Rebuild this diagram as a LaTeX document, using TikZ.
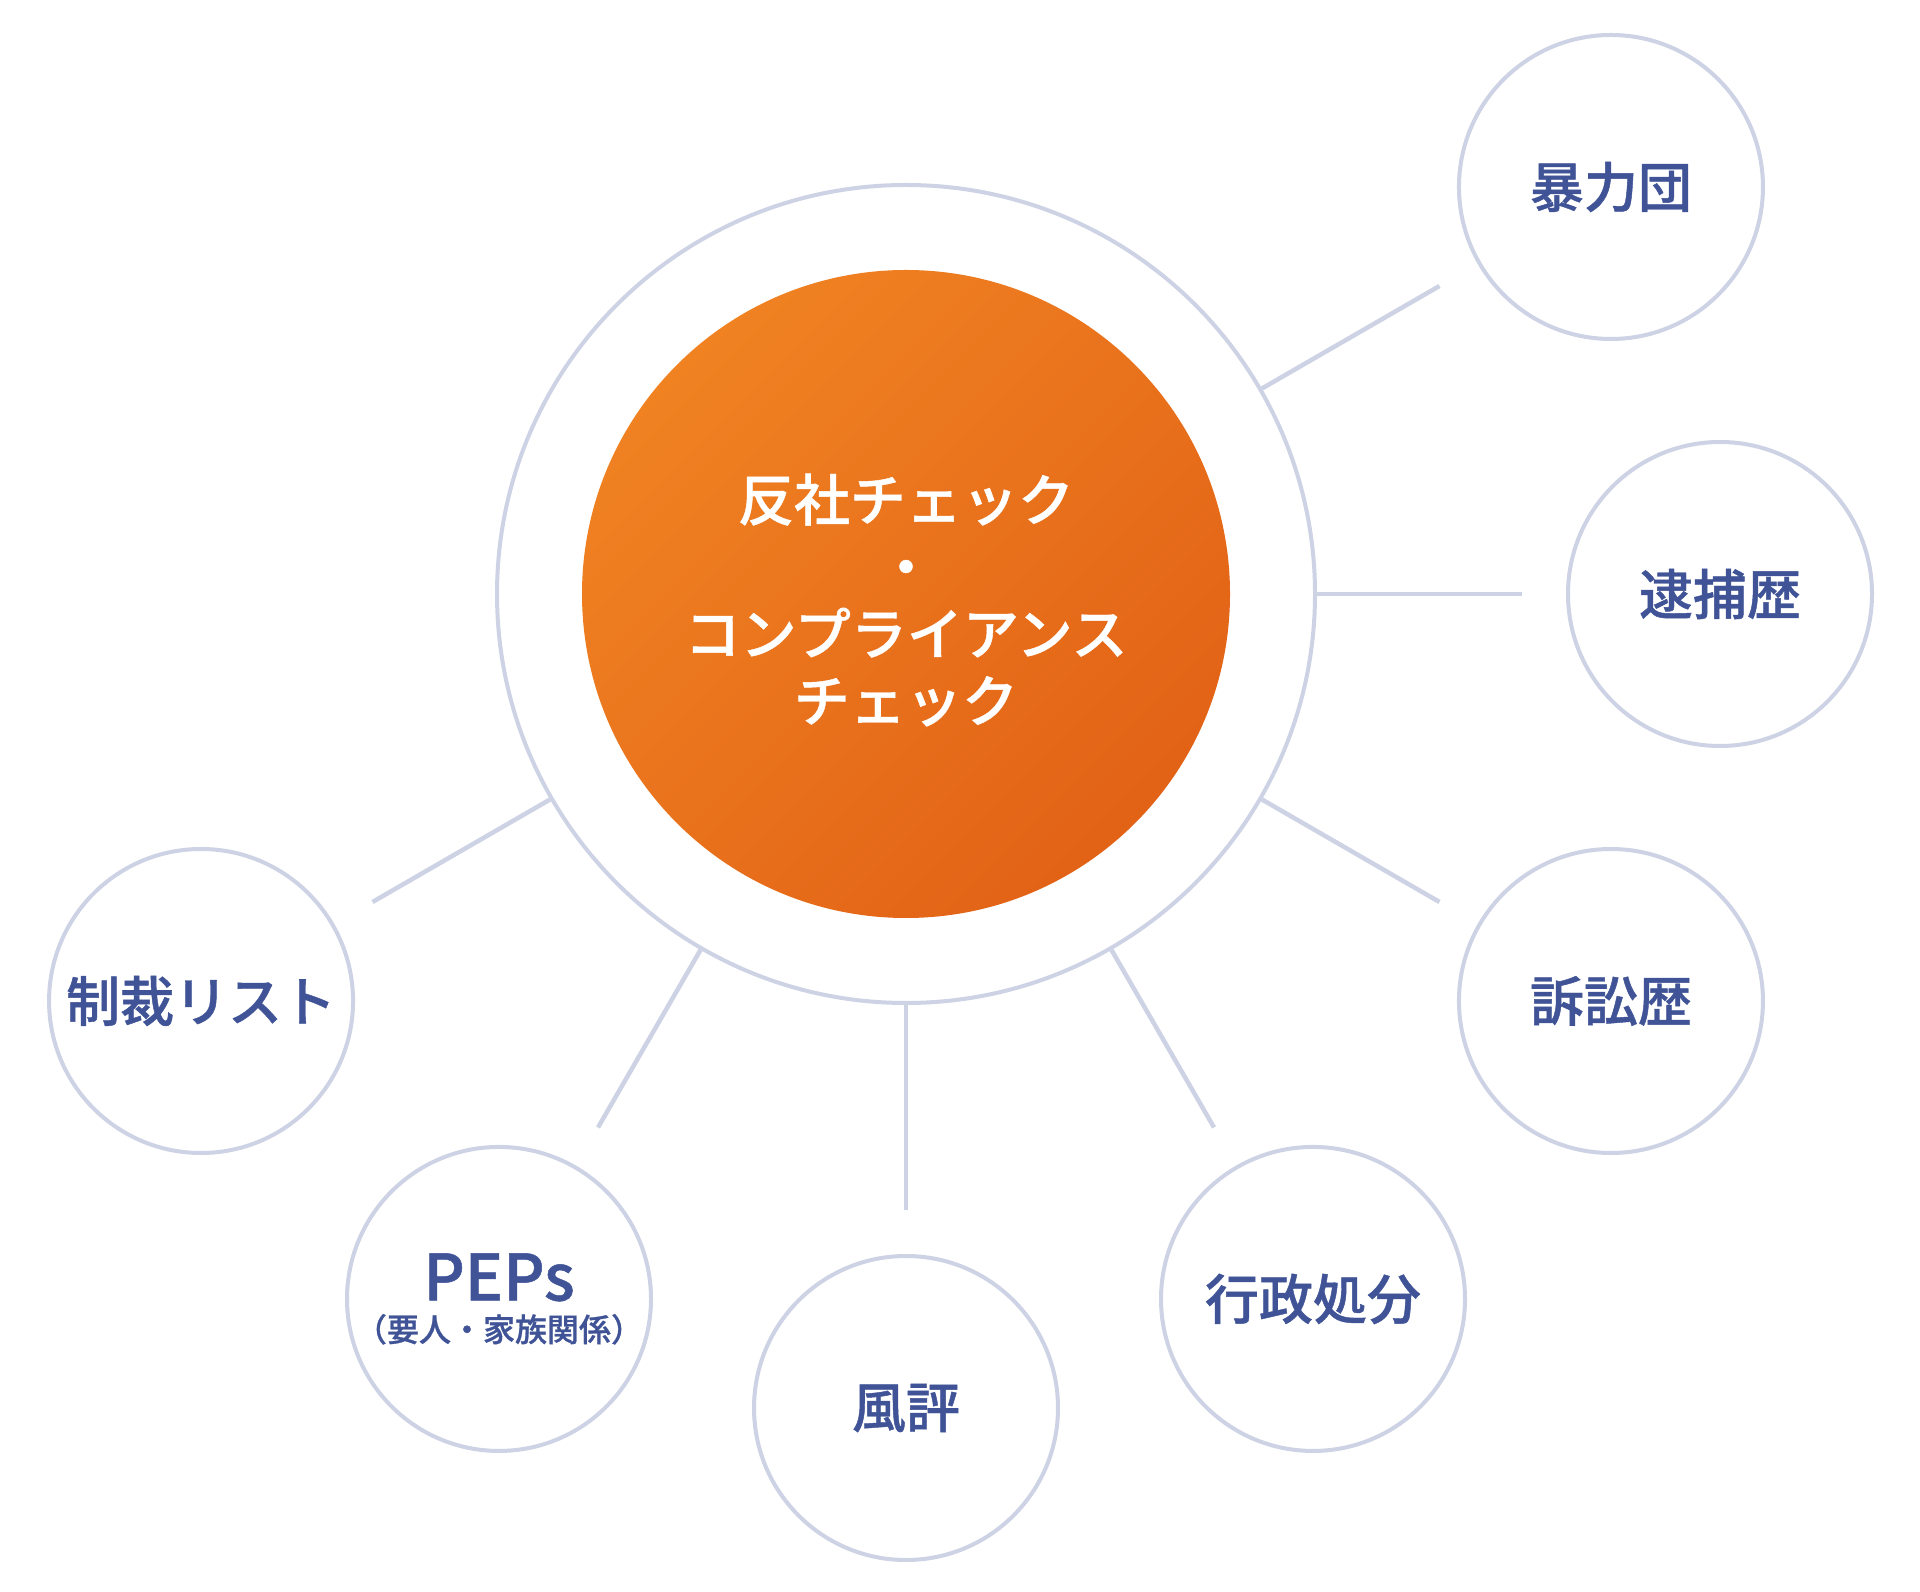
\documentclass[tikz,border=0pt]{standalone}
\usepackage{fontspec}
\setmainfont{Noto Sans CJK JP}
\newfontfamily\jpmed{Noto Sans CJK JP}[UprightFont=* Medium, FakeBold=0.8]
\usetikzlibrary{calc}
\definecolor{ringc}{RGB}{205,211,228}
\definecolor{labc}{RGB}{63,83,150}
\definecolor{orA}{RGB}{240,130,34}
\definecolor{orB}{RGB}{226,98,22}
\newcommand{\pepsfont}{\fontsize{16}{20.5}\selectfont\jpmed\lineskiplimit=-50pt\relax}
\begin{document}
\begin{tikzpicture}[x=0.5pt,y=0.5pt,
  conn/.style={draw=ringc,line width=2.25pt},
  smallc/.style={circle,draw=ringc,line width=2pt,minimum size=152pt,inner sep=0pt,fill=white,text=labc,font=\fontsize{27}{32}\selectfont\jpmed,align=center}]
\fill[white] (0,0) rectangle (1920,1591);
\useasboundingbox (0,0) rectangle (1920,1591);
\coordinate (C) at (906,997);
% connector free ends
\foreach \a/\n in {30/1,0/2,-30/3,-60/4,-90/5,-120/6,-150/7}{
  \coordinate (e\n) at ($(C)+(\a:616)$);
}
\node[circle,draw=ringc,line width=2pt,minimum size=409pt,inner sep=0pt] (ring) at (C) {};
\node[circle,minimum size=324pt,inner sep=0pt,top color=orA,bottom color=orB,shading angle=45] (core) at (C) {};
\node[text=white,align=center,font=\fontsize{28}{33.5}\selectfont\jpmed] (title) at ($(C)+(0,-6)$) {反社チェック\\・\\コンプライアンス\\チェック};
% connectors
\draw[conn] (ring.30) -- (e1);
\draw[conn] (ring.0) -- (e2);
\draw[conn] (ring.-30) -- (e3);
\draw[conn] (ring.-60) -- (e4);
\draw[conn] (ring.-90) -- (e5);
\draw[conn] (ring.-120) -- (e6);
\draw[conn] (ring.-150) -- (e7);
% outer circles
\node[smallc] (s1) at ($(C)+(30:814)$) {暴力団};
\node[smallc] (s2) at ($(C)+(0:814)$) {逮捕歴};
\node[smallc] (s3) at ($(C)+(-30:814)$) {訴訟歴};
\node[smallc] (s4) at ($(C)+(-60:814)$) {行政処分};
\node[smallc] (s5) at ($(C)+(-90:814)$) {風評};
\node[smallc,font=\pepsfont] (s6) at ($(C)+(-120:814)$) {{\fontsize{32}{20.5}\selectfont PEPs}\\（要人・家族関係）};
\node[smallc] (s7) at ($(C)+(-150:814)$) {制裁リスト};
\end{tikzpicture}
\end{document}
